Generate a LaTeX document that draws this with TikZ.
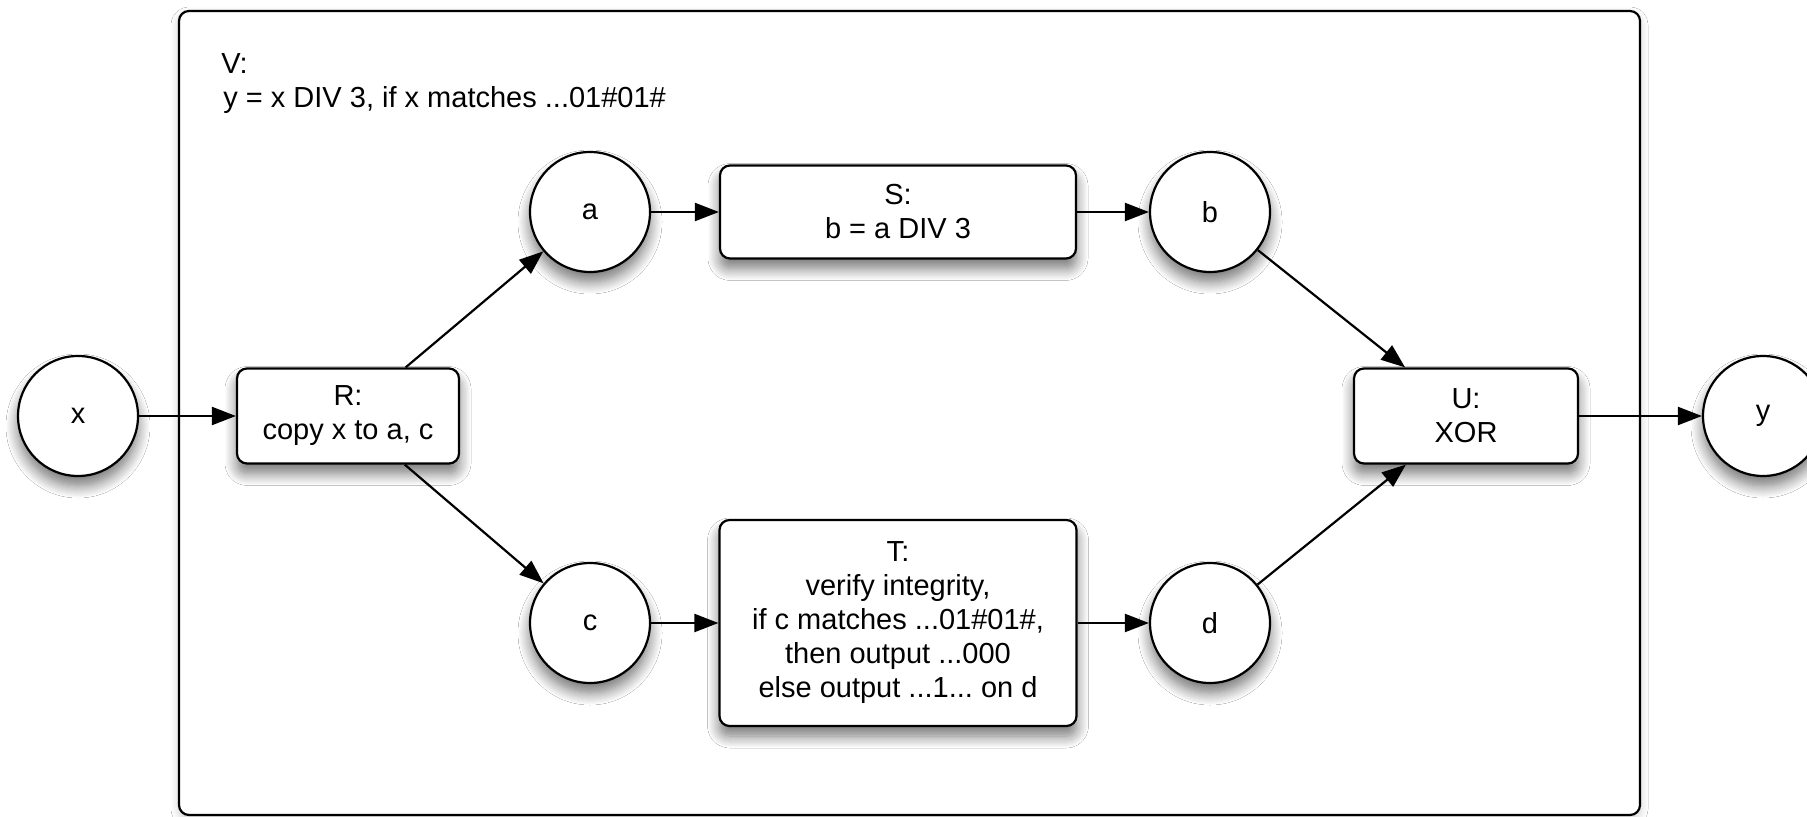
\documentclass[tikz,border=0pt]{standalone}
\usepackage{fontspec}
\setmainfont{Liberation Sans}
\frenchspacing
\usetikzlibrary{arrows.meta,shadows.blur}
\begin{document}
\begin{tikzpicture}[x=0.5pt,y=-0.5pt,
  font=\fontsize{14.5}{17}\selectfont,
  sh/.style={blur shadow={shadow xshift=0pt,shadow yshift=-5pt,shadow blur radius=6pt,shadow blur steps=12,shadow opacity=55}},
  lightsh/.style={blur shadow={shadow xshift=0pt,shadow yshift=-2pt,shadow blur radius=4pt,shadow blur steps=8,shadow opacity=20}},
  place/.style={circle,draw,line width=1.1pt,fill=white,minimum size=60pt,inner sep=0pt,sh},
  proc/.style={rectangle,rounded corners=5pt,draw,line width=1.1pt,fill=white,align=center,inner sep=0pt,sh},
  vbox/.style={rectangle,rounded corners=5pt,draw,line width=1.1pt,fill=white,inner sep=0pt,lightsh},
  arr/.style={-{Triangle[length=12pt,width=9pt]},line width=1.1pt}]
\clip (0,0) rectangle (1807,817);
\fill[white] (0,0) rectangle (1807,817);
\node[vbox,minimum width=730.5pt,minimum height=402pt] (V) at (909.5,413) {};
\node[anchor=north west,align=left,inner sep=0pt] (Vl) at (221,53) {V:\\\hspace{1pt}y = x DIV 3, if x matches ...01\#01\#};

\node[place] (x) at (78,416) {x};
\node[proc,minimum width=111pt,minimum height=47.5pt] (R) at (348,416) {R:\\copy x to a, c};
\node[place] (a) at (590,212) {a};
\node[place] (c) at (590,623) {c};
\node[proc,minimum width=178pt,minimum height=46.5pt] (S) at (898,212) {S:\\b = a DIV 3};
\node[proc,minimum width=178.5pt,minimum height=103pt] (T) at (898,623) {T:\\verify integrity,\\if c matches ...01\#01\#,\\then output ...000\\else output ...1... on d};
\node[place] (b) at (1210,212) {b};
\node[place] (d) at (1210,623) {d};
\node[proc,minimum width=112pt,minimum height=47.5pt] (U) at (1466,416) {U:\\XOR};
\node[place] (y) at (1763,416) {y};

\draw[arr] (x) -- (R);
\draw[arr] (R) -- (a);
\draw[arr] (R) -- (c);
\draw[arr] (a) -- (S);
\draw[arr] (S) -- (b);
\draw[arr] (c) -- (T);
\draw[arr] (T) -- (d);
\draw[arr] (b) -- (U);
\draw[arr] (d) -- (U);
\draw[arr] (U) -- (y);
\end{tikzpicture}
\end{document}
